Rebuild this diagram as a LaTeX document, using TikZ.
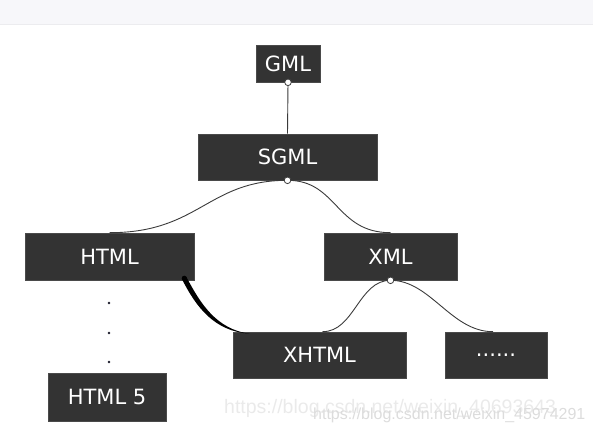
\documentclass[tikz,border=0pt]{standalone}
\usepackage{fontspec}
\setmainfont{DejaVu Sans}
\newfontfamily\wmfont{Liberation Sans}
\usetikzlibrary{calc}
\definecolor{boxgray}{HTML}{333333}
\definecolor{edgegray}{HTML}{4A4A4A}
\definecolor{linegray}{HTML}{3A3A3A}
\definecolor{bandgray}{HTML}{F7F7FA}
\definecolor{bandline}{HTML}{ECECEF}
\definecolor{wmA}{HTML}{EAEAEA}
\definecolor{wmB}{HTML}{DCDCDC}
\definecolor{dotcol}{HTML}{1A1A2A}
\tikzset{
  box/.style={fill=boxgray, draw=edgegray, line width=0.6pt, inner sep=0pt,
    text=white, font=\fontsize{21}{21}\selectfont},
  link/.style={draw=linegray, line width=0.9pt},
  joint/.style={draw=linegray, fill=white, line width=0.8pt},
  wm/.style={inner sep=0pt, anchor=base west}
}
\begin{document}
\begin{tikzpicture}[x=1pt,y=-1pt]
\useasboundingbox (0,0) rectangle (593,433);
\fill[bandgray] (0,0) rectangle (593,24.5);
\draw[bandline, line width=1pt] (0,25) -- (593,25);

\node[box, minimum width=64pt, minimum height=37pt] (gml) at (288,63.5) {GML};
\node[box, minimum width=179pt, minimum height=46pt] (sgml) at (287.5,157) {SGML};
\node[box, minimum width=169pt, minimum height=47pt] (html) at (109.5,256.5) {HTML};
\node[box, minimum width=133pt, minimum height=47pt] (xml) at (390.5,256.5) {XML};
\node[box, minimum width=173pt, minimum height=46pt] (xhtml) at (319.5,355) {XHTML};
\node[box, minimum width=102pt, minimum height=46pt] (etc) at (496,355) {......};
\node[box, minimum width=118pt, minimum height=48pt] (html5) at (107,397) {HTML 5};

% connectors
\draw[link] (gml.south) -- (sgml.north);
\draw[link] (sgml.south) .. controls ($(sgml.south)+(-80,0)$) and ($(html.north)+(90,0)$) .. (html.north);
\draw[link] (sgml.south) .. controls ($(sgml.south)+(50,0)$) and ($(xml.north)+(-55,0)$) .. (xml.north);
\draw[link] (xml.south) .. controls ($(xml.south)+(-32,0)$) and ($(xhtml.north)+(35,0)$) .. ($(xhtml.north)+(3,0)$) coordinate (xhtmltop);
\draw[link] (xml.south) .. controls ($(xml.south)+(40,0)$) and ($(etc.north)+(-45,0)$) .. ($(etc.north)+(-3,0)$) coordinate (etctop);

% thick tapered connector HTML -> XHTML
\coordinate (ts) at ($(html.south east)+(-10,-2)$);
\coordinate (te) at ($(xhtml.north west)+(17,2)$);
\fill[black] ($(ts)+(2.2,-1.1)$) .. controls ($(ts)+(16,25)$) and ($(ts)+(32,51)$) .. (te)
  .. controls ($(ts)+(30,53)$) and ($(ts)+(12,29)$) .. ($(ts)+(-2.2,1.1)$) -- cycle;
\fill[black] (ts) circle (2.6);

% joints
\draw[joint] (gml.south) circle (3.3);
\draw[joint] (sgml.south) circle (3.3);
\draw[joint] (xml.south) circle (3.3);

% dots
\fill[dotcol] (109,303) circle (1.4);
\fill[dotcol] (109,333) circle (1.4);
\fill[dotcol] (109,362) circle (1.4);

% watermarks
\node[wm, text=wmA, font=\wmfont\fontsize{19.5}{19.5}\selectfont] (wm1) at (224,413) {https://blog.csdn.net/weixin\_40693643};
\node[wm, text=wmB, font=\wmfont\fontsize{16}{16}\selectfont] (wm2) at (313,419) {https://blog.csdn.net/weixin\_45974291};
\end{tikzpicture}
\end{document}
